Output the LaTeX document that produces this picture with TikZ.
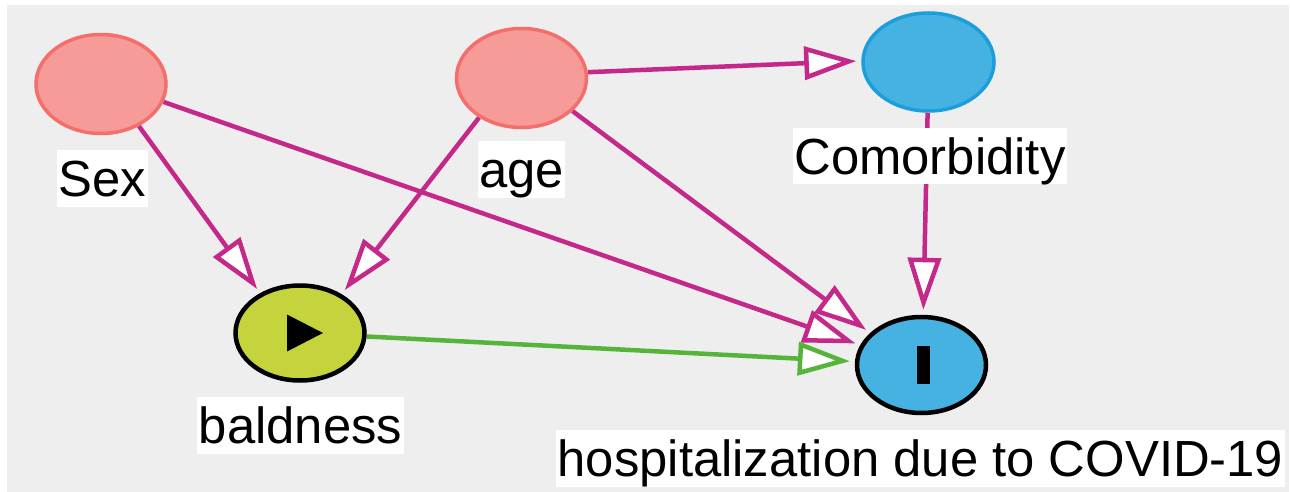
\documentclass[tikz,border=0pt]{standalone}
\usepackage{fontspec}
\setmainfont{Liberation Sans}
\usetikzlibrary{arrows.meta,backgrounds,shapes.geometric}

\definecolor{canvas}{RGB}{238,238,238}
\definecolor{adjfill}{RGB}{247,155,153}
\definecolor{adjline}{RGB}{244,110,108}
\definecolor{outfill}{RGB}{70,178,226}
\definecolor{outline}{RGB}{28,158,220}
\definecolor{expfill}{RGB}{197,212,60}
\definecolor{biaspath}{RGB}{196,40,136}
\definecolor{causalpath}{RGB}{86,180,58}

\tikzset{
  var/.style={ellipse, inner sep=0pt},
  adjusted/.style={var, fill=adjfill, draw=adjline, line width=3.5pt,
    minimum width=130pt, minimum height=99pt},
  ancestor/.style={var, fill=outfill, draw=outline, line width=3.5pt,
    minimum width=131pt, minimum height=98pt},
  exposure/.style={var, fill=expfill, draw=black, line width=4.5pt,
    minimum width=129pt, minimum height=95pt},
  outcome/.style={var, fill=outfill, draw=black, line width=4.5pt,
    minimum width=129pt, minimum height=96pt},
  lbl/.style={fill=white, inner xsep=1.5pt, inner ysep=0pt,
    text height=46.7pt, text depth=10.2pt,
    font=\fontsize{50.8pt}{60pt}\selectfont},
  edge/.style={line width=4.5pt, shorten >=5pt,
    -{Triangle[length=52pt,width=33pt,fill=white]}},
  biased/.style={edge, draw=biaspath},
  causal/.style={edge, draw=causalpath},
}

\begin{document}
\begin{tikzpicture}[x=1pt,y=-1pt]
\useasboundingbox (0,0) rectangle (1290,492);
\begin{scope}[on background layer]
  \fill[white] (0,0) rectangle (1290,492);
  \fill[canvas] (7,5) rectangle (1289,492);
\end{scope}

% variables
\node[adjusted] (sex)  at (101,84)    {};
\node[adjusted] (age)  at (521.5,78)  {};
\node[ancestor] (com)  at (928.5,62)  {};
\node[exposure] (bald) at (300,333)   {};
\node[outcome]  (hosp) at (921.5,365) {};

% exposure / outcome markers
\fill[black] ([xshift=-13pt,yshift=18.5pt]bald.center)
  -- ([xshift=23pt]bald.center)
  -- ([xshift=-13pt,yshift=-18.5pt]bald.center) -- cycle;
\fill[black] ([xshift=-5pt,yshift=19pt]hosp.center) rectangle
  ([xshift=8pt,yshift=-19pt]hosp.center);

% arrows
\begin{scope}[on background layer]
  \draw[biased] (sex.-48)   -- (bald.135);
  \draw[biased] (age.223.6) -- (bald.43.7);
  \draw[biased] (sex.-16.5) -- (hosp.162.6);
  \draw[biased] (age.-33)   -- (hosp.148.6);
  \draw[biased] (age.5)     -- (com.179.3);
  \draw[biased] (com.-91)   -- (hosp.88);
  \draw[causal] (bald.-3.4) -- (hosp.177.6);
\end{scope}

% labels
\node[lbl] (sexl)  at (102.5,178.5) {Sex};
\node[lbl] (agel)  at (521.5,169.5) {age};
\node[lbl] (coml)  at (930,156)     {Comorbidity};
\node[lbl] (baldl) at (300.5,425.5) {baldness};
\node[lbl] (hospl) at (920.5,458.5) {hospitalization due to COVID-19};
\end{tikzpicture}
\end{document}
